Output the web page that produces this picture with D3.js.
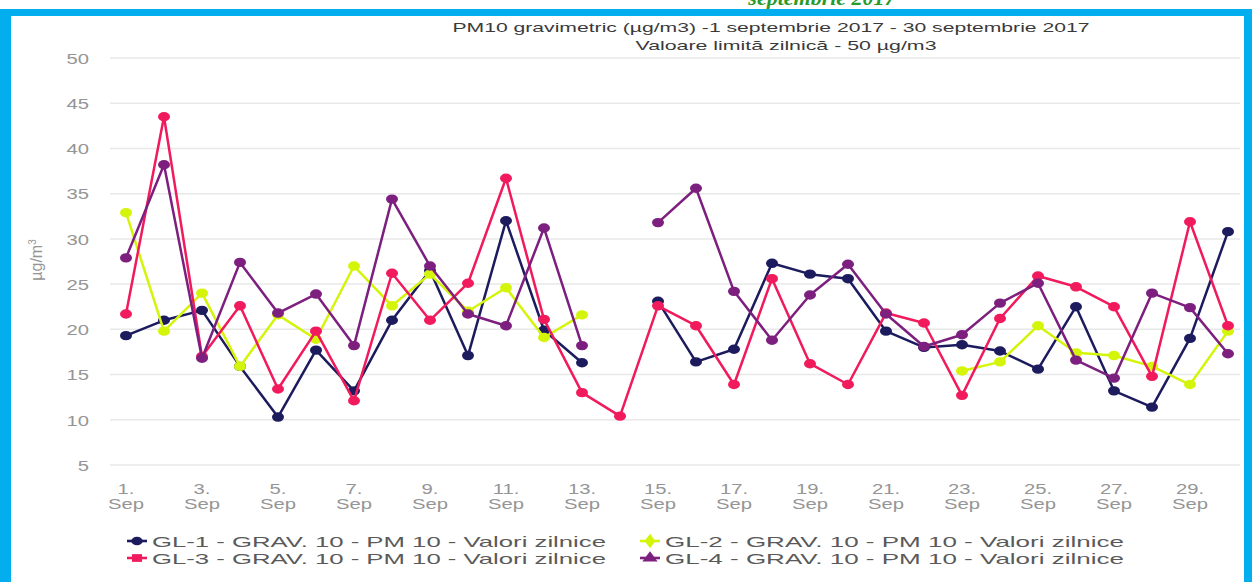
<!DOCTYPE html>
<html>
<head>
<meta charset="utf-8">
<script src="https://cdn.jsdelivr.net/npm/d3@7"></script>
<style>
  body { margin: 0; background: #fff; }
  svg { display: block; font-family: "Liberation Sans", Arial, sans-serif; }
</style>
</head>
<body>
<div id="chart"></div>
<script>
// days of September 2017
var days = d3.range(1, 31);
var tickDays = [1, 3, 5, 7, 9, 11, 13, 15, 17, 19, 21, 23, 25, 27, 29];
var yTicks = [5, 10, 15, 20, 25, 30, 35, 40, 45, 50];

// PM10 daily values (µg/m3), null = no data
var gl1 = [19.3, 21.0, 22.1, 15.9, 10.3, 17.7, 13.2, 21.0, 26.5, 17.1, 32.0, 19.9, 16.3, null, 23.1,
           16.4, 17.8, 27.3, 26.1, 25.6, 19.8, 18.0, 18.3, 17.6, 15.6, 22.5, 13.2, 11.4, 19.0, 30.8];
var gl2 = [32.9, 19.8, 24.0, 15.9, 21.6, 18.9, 27.0, 22.6, 26.1, 22.0, 24.6, 19.1, 21.6, null, null,
           null, null, null, null, null, null, null, 15.4, 16.4, 20.4, 17.4, 17.1, 15.9, 13.9, 19.8];
var gl3 = [21.7, 43.5, 17.0, 22.6, 13.4, 19.8, 12.1, 26.2, 21.0, 25.1, 36.7, 21.1, 13.0, 10.4, 22.6,
           20.4, 13.9, 25.6, 16.2, 13.9, 21.8, 20.7, 12.7, 21.2, 25.9, 24.7, 22.5, 14.8, 31.9, 20.4];
var gl4 = [27.9, 38.2, 16.8, 27.4, 21.8, 23.9, 18.2, 34.4, 27.0, 21.7, 20.4, 31.2, 18.2, null, 31.8,
           35.6, 24.2, 18.8, 23.8, 27.2, 21.7, 18.1, 19.4, 22.9, 25.1, 16.6, 14.6, 24.0, 22.4, 17.3];

var seriesNames = ["GL-1 - GRAV. 10 - PM 10 - Valori zilnice", "GL-2 - GRAV. 10 - PM 10 - Valori zilnice",
                   "GL-3 - GRAV. 10 - PM 10 - Valori zilnice", "GL-4 - GRAV. 10 - PM 10 - Valori zilnice"];
var seriesColors = ["#1c1b5e", "#d4f50a", "#f01a5c", "#7c1f7e"];
var seriesSymbols = ["circle", "diamond", "square", "triangle"];
var seriesValues = [gl1, gl2, gl3, gl4];

var width = 1252, height = 582;
var stretch = 1.35; // text in the picture is widened horizontally

var svg = d3.select("#chart").append("svg")
    .attr("width", width)
    .attr("height", height);

// blue frame and the heading above it, cut by the top edge as in the picture
svg.append("text")
    .attr("x", 822).attr("y", 5)
    .attr("text-anchor", "middle")
    .style("font-family", "'Liberation Serif', serif")
    .style("font-style", "italic").style("font-weight", "bold")
    .style("font-size", "22px").style("fill", "#2a9a2a")
    .text("septembrie 2017");
svg.append("rect").attr("x", 0).attr("y", 9).attr("width", width).attr("height", 7).attr("fill", "#03aeef");
svg.append("rect").attr("x", 0).attr("y", 9).attr("width", 11).attr("height", height).attr("fill", "#03aeef");
svg.append("rect").attr("x", 1244).attr("y", 9).attr("width", 8).attr("height", height).attr("fill", "#03aeef");

function widen(sel, k) {
    sel.each(function () {
        var w = this.getComputedTextLength();
        d3.select(this).attr("textLength", w * k).attr("lengthAdjust", "spacingAndGlyphs");
    });
}

// scales
var x = d3.scaleLinear().domain([1, 30]).range([126, 1228]);
var y = d3.scaleLinear().domain([5, 50]).range([465, 58]);

// grid
svg.append("g").selectAll("line")
    .data(yTicks).enter().append("line")
    .attr("x1", 110).attr("x2", 1240)
    .attr("y1", function (d) { return y(d); })
    .attr("y2", function (d) { return y(d); })
    .attr("stroke", "#e8e8e8").attr("stroke-width", 1.5);

// y axis
var yAxis = svg.append("g")
    .attr("transform", "translate(89,0)")
    .call(d3.axisLeft(y).tickValues(yTicks).tickSize(0).tickPadding(0));
yAxis.select(".domain").remove();
yAxis.selectAll("text")
    .style("font-size", "15px").style("fill", "#959595")
    .style("font-family", "'Liberation Sans', Arial, sans-serif")
    .attr("dy", "0.35em")
    .call(widen, stretch);

svg.append("text")
    .attr("transform", "translate(42,260) rotate(-90)")
    .attr("text-anchor", "middle")
    .style("font-size", "16px").style("fill", "#959595")
    .html("µg/m<tspan dy='-6' font-size='10px'>3</tspan>");

// x axis labels, two lines
var xLab = svg.append("g").selectAll("g")
    .data(tickDays).enter().append("g")
    .attr("transform", function (d) { return "translate(" + x(d) + ",0)"; });
xLab.append("text").attr("y", 494).attr("text-anchor", "middle")
    .style("font-size", "15px").style("fill", "#959595")
    .text(function (d) { return d + "."; })
    .call(widen, stretch);
xLab.append("text").attr("y", 509).attr("text-anchor", "middle")
    .style("font-size", "15px").style("fill", "#959595")
    .text("Sep")
    .call(widen, stretch);

// title
svg.append("text").attr("x", 771).attr("y", 32).attr("text-anchor", "middle")
    .style("font-size", "13.5px").style("fill", "#3a3a3a")
    .text("PM10 gravimetric (µg/m3) -1 septembrie 2017 - 30 septembrie 2017")
    .attr("textLength", 637).attr("lengthAdjust", "spacingAndGlyphs");
svg.append("text").attr("x", 786).attr("y", 50).attr("text-anchor", "middle")
    .style("font-size", "13.5px").style("fill", "#3a3a3a")
    .text("Valoare limită zilnică - 50 µg/m3")
    .attr("textLength", 301).attr("lengthAdjust", "spacingAndGlyphs");

// lines
var line = d3.line()
    .defined(function (d) { return d != null; })
    .x(function (d, i) { return x(days[i]); })
    .y(function (d) { return y(d); });

seriesValues.forEach(function (vals, s) {
    var g = svg.append("g");
    g.append("path")
        .datum(vals)
        .attr("d", line)
        .attr("fill", "none")
        .attr("stroke", seriesColors[s])
        .attr("stroke-width", 2.5)
        .attr("stroke-linejoin", "round");
    g.selectAll("ellipse")
        .data(vals.map(function (v, i) { return { day: days[i], v: v }; })
            .filter(function (d) { return d.v != null; }))
        .enter().append("ellipse")
        .attr("cx", function (d) { return x(d.day); })
        .attr("cy", function (d) { return y(d.v); })
        .attr("rx", 6).attr("ry", 4.7)
        .attr("fill", seriesColors[s]);
});

// legend
var symbolTypes = {
    circle: d3.symbolCircle, diamond: d3.symbolDiamond,
    square: d3.symbolSquare, triangle: d3.symbolTriangle
};
var legendPos = [[137, 541], [650, 541], [137, 558], [650, 558]];
var textWidths = [454, 459, 454, 459];
seriesNames.forEach(function (name, s) {
    var p = legendPos[s];
    var lg = svg.append("g").attr("transform", "translate(" + p[0] + "," + p[1] + ")");
    lg.append("line").attr("x1", -10).attr("x2", 10)
        .attr("stroke", seriesColors[s]).attr("stroke-width", 2.6);
    lg.append("path")
        .attr("d", d3.symbol().type(symbolTypes[seriesSymbols[s]]).size(60))
        .attr("transform", "scale(1.3,1)")
        .attr("fill", seriesColors[s]);
    lg.append("text").attr("x", 15).attr("y", 6)
        .style("font-size", "15px").style("fill", "#5a5a5a")
        .text(name)
        .attr("textLength", textWidths[s]).attr("lengthAdjust", "spacingAndGlyphs");
});
</script>
</body>
</html>
